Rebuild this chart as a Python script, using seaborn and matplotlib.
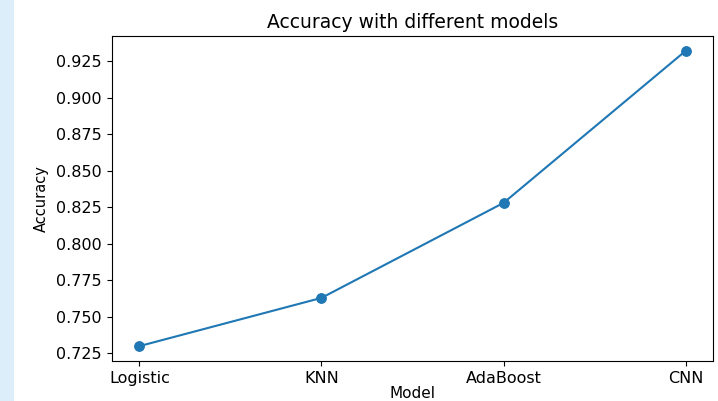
import matplotlib
matplotlib.use("Agg")
import matplotlib.pyplot as plt
import pandas as pd
import seaborn as sns
from matplotlib.patches import Rectangle

models = ["Logistic", "KNN", "AdaBoost", "CNN"]
accuracy = [0.730, 0.763, 0.828, 0.932]

df = pd.DataFrame({"Model": models, "Accuracy": accuracy})

plt.rcParams["font.family"] = ["DejaVu Sans"]

fig = plt.figure(figsize=(7.18, 4.01), dpi=100)
# faint blue strip on the left edge of the screenshot
fig.patches.append(Rectangle((0, 0), 0.02, 1, transform=fig.transFigure,
                             facecolor="#dbeefa", edgecolor="none", zorder=0))
ax = fig.add_axes([0.156, 0.100, 0.837, 0.810])

sns.lineplot(data=df, x="Model", y="Accuracy", marker="o", color="#1f77b4",
             markeredgecolor="#1f77b4", markersize=7, linewidth=1.5, ax=ax)

ax.set_title("Accuracy with different models", fontsize=13.5, pad=6)
ax.set_xlabel("Model", fontsize=11, labelpad=0)
ax.set_ylabel("Accuracy", fontsize=10.5, labelpad=5, family="Liberation Sans Narrow")
ax.tick_params(labelsize=11.5, pad=4)

fig.savefig("out.png", dpi=100)
